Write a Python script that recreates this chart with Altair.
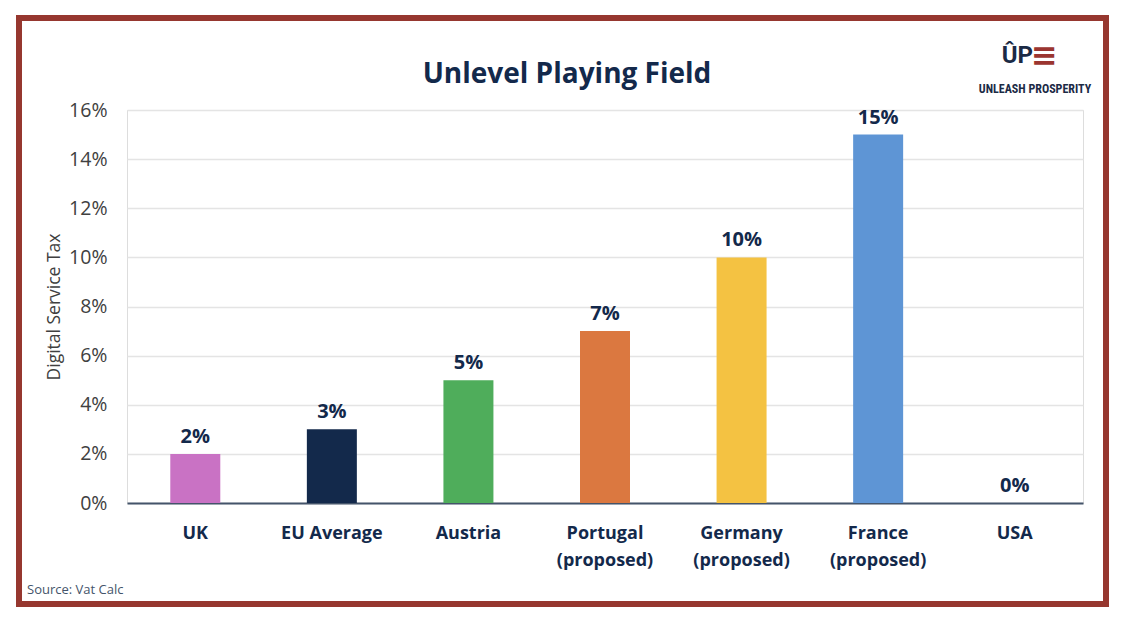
import altair as alt
import pandas as pd

categories = ["UK", "EU Average", "Austria", "Portugal\n(proposed)", "Germany\n(proposed)", "France\n(proposed)", "USA"]
values = [0.02, 0.03, 0.05, 0.07, 0.10, 0.15, 0.00]
labels = ["2%", "3%", "5%", "7%", "10%", "15%", "0%"]
colors = ["#C972C4", "#13294B", "#4FAD5B", "#DB7840", "#F4C242", "#5E95D5", "#FFFFFF"]

df = pd.DataFrame({"cat": categories, "val": values, "lab": labels})

W, H = 956, 393
PL, PT = 119, 102
FONT = "Open Sans"
NAVY = "#13294B"

xenc = alt.X("cat:N", sort=categories,
             scale=alt.Scale(paddingInner=0.634, paddingOuter=0.317),
             axis=alt.Axis(title=None, labelExpr="split(datum.label, '\\n')",
                           labelFont=FONT, labelFontSize=18, labelFontWeight="bold",
                           labelColor=NAVY, labelAngle=0, labelPadding=21,
                           labelLineHeight=27, ticks=False,
                           domainColor="#44546A", domainWidth=2))
yenc = alt.Y("val:Q", scale=alt.Scale(domain=[0, 0.16]),
             axis=alt.Axis(title="Digital Service Tax", format=".0%", values=[0, .02, .04, .06, .08, .10, .12, .14, .16],
                           labelFont=FONT, labelFontSize=19.5, labelColor="#404040", labelPadding=20,
                           titleFont=FONT, titleFontSize=17.5, titleFontWeight="normal", titleColor="#404040",
                           titlePadding=5, ticks=False, domain=False,
                           grid=True, gridColor="#E4E4E4", gridWidth=1.3))

base = alt.Chart(df)

bars = base.mark_bar(size=50).encode(
    x=xenc, y=yenc,
    color=alt.Color("cat:N", sort=categories,
                    scale=alt.Scale(domain=categories, range=colors), legend=None),
)

texts = base.mark_text(dy=-17, font=FONT, fontSize=20, fontWeight="bold", color=NAVY).encode(
    x=alt.X("cat:N", sort=categories), y="val:Q", text="lab:N"
)

frame_df = pd.DataFrame({"k": [0]})
frame = alt.Chart(frame_df).mark_rect(fill=None, stroke="#96372F", strokeWidth=6).encode(
    x=alt.value(-108), x2=alt.value(979), y=alt.value(-92), y2=alt.value(494)
)

title = alt.Chart(frame_df).mark_text(font=FONT, fontSize=28, fontWeight="bold", color=NAVY).encode(
    x=alt.value(440), y=alt.value(-35), text=alt.value("Unlevel Playing Field")
)

source = alt.Chart(frame_df).mark_text(font=FONT, fontSize=13, color="#44546A", align="left").encode(
    x=alt.value(-100), y=alt.value(480), text=alt.value("Source: Vat Calc")
)

logo_up = alt.Chart(frame_df).mark_text(font="'Liberation Sans Narrow', Roboto", fontSize=24, fontWeight="bold",
                                        color="#1B2A45", align="right").encode(
    x=alt.value(906), y=alt.value(-54), text=alt.value("ÛP")
)
logo_stripes = alt.Chart(frame_df).mark_text(font="DejaVu Sans", fontSize=32, fontWeight="bold",
                                             color="#9B3530", align="left").encode(
    x=alt.value(904), y=alt.value(-54), text=alt.value("≡")
)
logo_name = alt.Chart(frame_df).mark_text(font="'Liberation Sans Narrow', 'Roboto Condensed', Roboto", fontSize=12,
                                          fontWeight="bold", color="#1B2A45").encode(
    x=alt.value(908), y=alt.value(-21), text=alt.value("UNLEASH PROSPERITY")
)

chart = alt.layer(bars, texts, frame, title, source, logo_up, logo_stripes, logo_name).properties(
    width=W, height=H,
    autosize=alt.AutoSizeParams(type="none"),
    padding={"left": PL, "top": PT, "right": 1110 - PL - W, "bottom": 600 - PT - H},
).configure_view(stroke=None).configure(background="white")

chart.save("out.html", embed_options={"renderer": "svg", "actions": False})
